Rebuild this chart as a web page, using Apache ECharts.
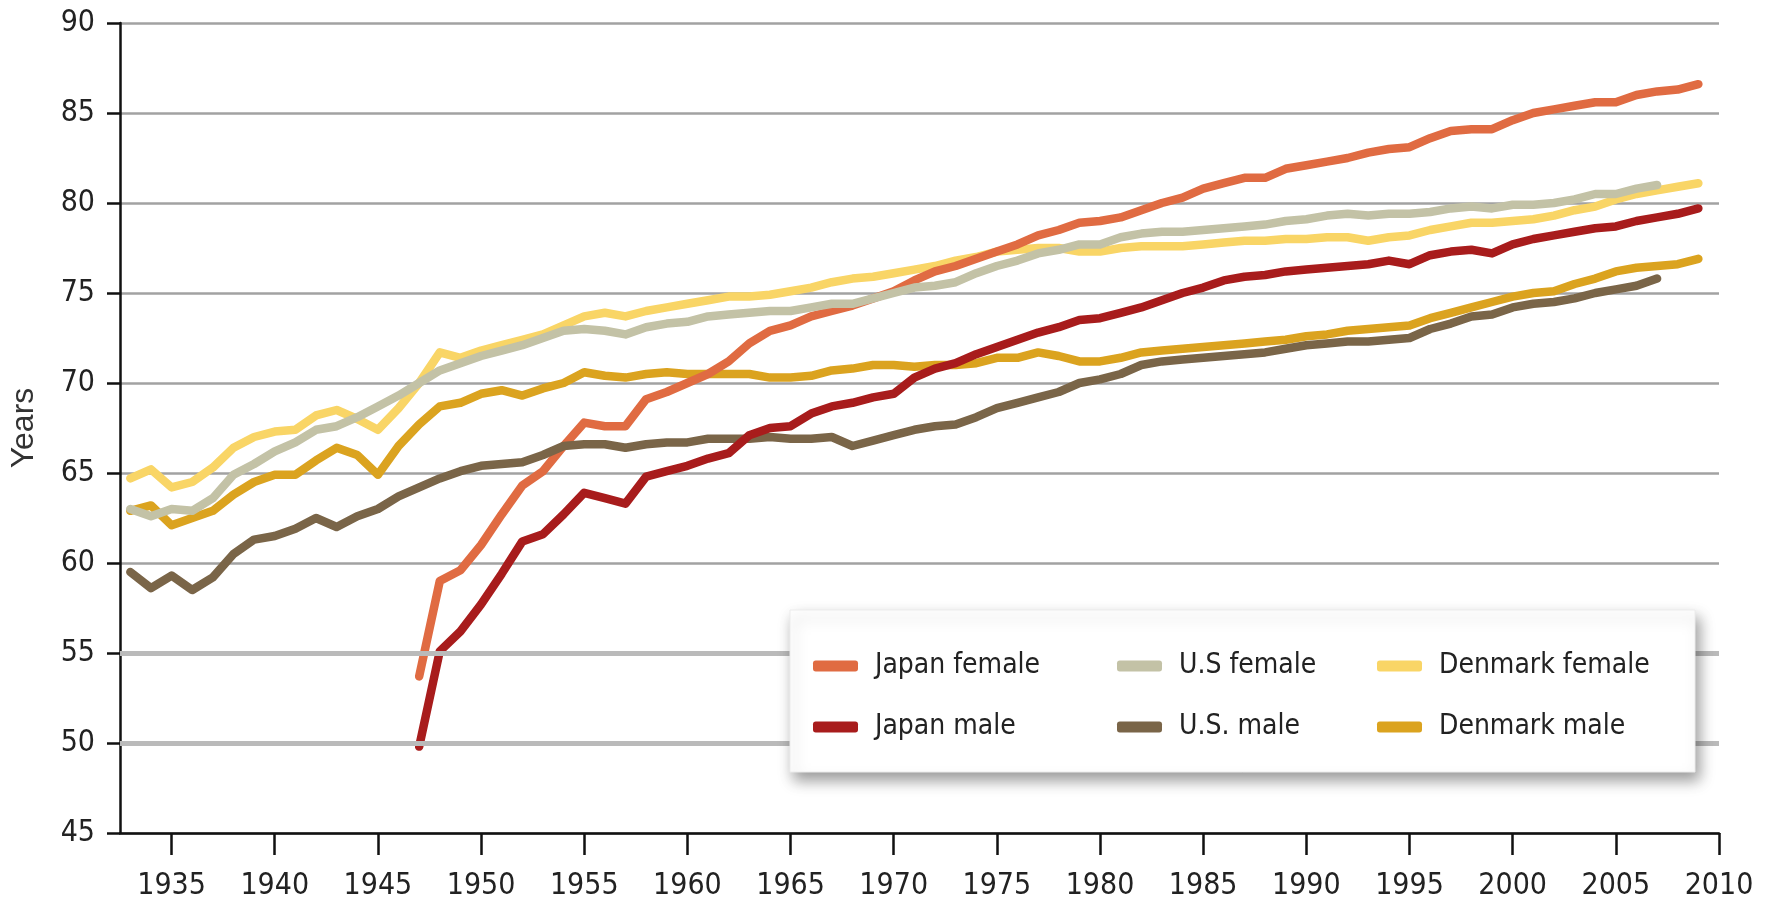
<!DOCTYPE html>
<html><head><meta charset="utf-8">
<script src="https://cdn.jsdelivr.net/npm/echarts@6/dist/echarts.min.js"></script>
<style>html,body{margin:0;padding:0;background:#fff}#c{width:1767px;height:909px}</style>
</head><body><div id="c"></div><script>
const years = [1933,1934,1935,1936,1937,1938,1939,1940,1941,1942,1943,1944,1945,1946,1947,1948,1949,1950,1951,1952,1953,1954,1955,1956,1957,1958,1959,1960,1961,1962,1963,1964,1965,1966,1967,1968,1969,1970,1971,1972,1973,1974,1975,1976,1977,1978,1979,1980,1981,1982,1983,1984,1985,1986,1987,1988,1989,1990,1991,1992,1993,1994,1995,1996,1997,1998,1999,2000,2001,2002,2003,2004,2005,2006,2007,2008,2009];
const japanFemale = [null,null,null,null,null,null,null,null,null,null,null,null,null,null,53.7,59.0,59.6,61.0,62.7,64.3,65.1,66.5,67.8,67.6,67.6,69.1,69.5,70.0,70.5,71.2,72.2,72.9,73.2,73.7,74.0,74.3,74.7,75.1,75.7,76.2,76.5,76.9,77.3,77.7,78.2,78.5,78.9,79.0,79.2,79.6,80.0,80.3,80.8,81.1,81.4,81.4,81.9,82.1,82.3,82.5,82.8,83.0,83.1,83.6,84.0,84.1,84.1,84.6,85.0,85.2,85.4,85.6,85.6,86.0,86.2,86.3,86.6];
const japanMale = [null,null,null,null,null,null,null,null,null,null,null,null,null,null,49.8,55.1,56.2,57.7,59.4,61.2,61.6,62.7,63.9,63.6,63.3,64.8,65.1,65.4,65.8,66.1,67.1,67.5,67.6,68.3,68.7,68.9,69.2,69.4,70.3,70.8,71.1,71.6,72.0,72.4,72.8,73.1,73.5,73.6,73.9,74.2,74.6,75.0,75.3,75.7,75.9,76.0,76.2,76.3,76.4,76.5,76.6,76.8,76.6,77.1,77.3,77.4,77.2,77.7,78.0,78.2,78.4,78.6,78.7,79.0,79.2,79.4,79.7];
const usFemale = [63.0,62.6,63.0,62.9,63.6,64.9,65.5,66.2,66.7,67.4,67.6,68.1,68.7,69.3,70.0,70.7,71.1,71.5,71.8,72.1,72.5,72.9,73.0,72.9,72.7,73.1,73.3,73.4,73.7,73.8,73.9,74.0,74.0,74.2,74.4,74.4,74.7,75.0,75.3,75.4,75.6,76.1,76.5,76.8,77.2,77.4,77.7,77.7,78.1,78.3,78.4,78.4,78.5,78.6,78.7,78.8,79.0,79.1,79.3,79.4,79.3,79.4,79.4,79.5,79.7,79.8,79.7,79.9,79.9,80.0,80.2,80.5,80.5,80.8,81.0,null,null];
const usMale = [59.5,58.6,59.3,58.5,59.2,60.5,61.3,61.5,61.9,62.5,62.0,62.6,63.0,63.7,64.2,64.7,65.1,65.4,65.5,65.6,66.0,66.5,66.6,66.6,66.4,66.6,66.7,66.7,66.9,66.9,66.9,67.0,66.9,66.9,67.0,66.5,66.8,67.1,67.4,67.6,67.7,68.1,68.6,68.9,69.2,69.5,70.0,70.2,70.5,71.0,71.2,71.3,71.4,71.5,71.6,71.7,71.9,72.1,72.2,72.3,72.3,72.4,72.5,73.0,73.3,73.7,73.8,74.2,74.4,74.5,74.7,75.0,75.2,75.4,75.8,null,null];
const denmarkFemale = [64.7,65.2,64.2,64.5,65.3,66.4,67.0,67.3,67.4,68.2,68.5,68.0,67.4,68.6,70.0,71.7,71.4,71.8,72.1,72.4,72.7,73.2,73.7,73.9,73.7,74.0,74.2,74.4,74.6,74.8,74.8,74.9,75.1,75.3,75.6,75.8,75.9,76.1,76.3,76.5,76.8,77.0,77.3,77.4,77.5,77.5,77.3,77.3,77.5,77.6,77.6,77.6,77.7,77.8,77.9,77.9,78.0,78.0,78.1,78.1,77.9,78.1,78.2,78.5,78.7,78.9,78.9,79.0,79.1,79.3,79.6,79.8,80.2,80.5,80.7,80.9,81.1];
const denmarkMale = [62.9,63.2,62.1,62.5,62.9,63.8,64.5,64.9,64.9,65.7,66.4,66.0,64.9,66.5,67.7,68.7,68.9,69.4,69.6,69.3,69.7,70.0,70.6,70.4,70.3,70.5,70.6,70.5,70.5,70.5,70.5,70.3,70.3,70.4,70.7,70.8,71.0,71.0,70.9,71.0,71.0,71.1,71.4,71.4,71.7,71.5,71.2,71.2,71.4,71.7,71.8,71.9,72.0,72.1,72.2,72.3,72.4,72.6,72.7,72.9,73.0,73.1,73.2,73.6,73.9,74.2,74.5,74.8,75.0,75.1,75.5,75.8,76.2,76.4,76.5,76.6,76.9];
const xTicks = [1935,1940,1945,1950,1955,1960,1965,1970,1975,1980,1985,1990,1995,2000,2005,2010];

const FONT = "'Liberation Sans Narrow','DejaVu Sans Condensed',sans-serif";
function pairs(vals){ const out=[]; years.forEach((y,i)=>{ if(vals[i]!=null) out.push([y,vals[i]]); }); return out; }
function mk(name, vals, color, z){
  return {name:name, type:'line', data:pairs(vals), showSymbol:false, symbol:'none', z:z,
    lineStyle:{width:8.5,color:color,cap:'round',join:'round'}, itemStyle:{color:color}, animation:false};
}
const legendCommon = {orient:'vertical', icon:'roundRect', itemWidth:45, itemHeight:11, itemGap:21, top:646, padding:0, z:20, selectedMode:false,
  textStyle:{fontFamily:FONT, fontSize:28, color:'#222', lineHeight:40, padding:[0,0,0,12]}};
const chart = echarts.init(document.getElementById('c'));
chart.setOption({
  backgroundColor:'#fff',
  animation:false,
  grid:{left:108, right:48, top:23, bottom:76, containLabel:false},
  xAxis:{type:'value', min:1932.5, max:2010,
    axisLine:{show:true, onZero:false, lineStyle:{color:'#111', width:2.5}},
    axisTick:{show:true, customValues:xTicks, length:22, lineStyle:{color:'#111', width:2.5}},
    axisLabel:{customValues:xTicks, formatter:function(v){return String(v);}, margin:38, fontSize:30, color:'#222', fontFamily:FONT},
    splitLine:{show:false}},
  yAxis:{type:'value', min:45, max:90, interval:5,
    name:'Years', nameLocation:'middle', nameGap:80, nameRotate:90,
    nameTextStyle:{fontSize:32, fontFamily:"'Liberation Sans',sans-serif", color:'#333'},
    axisLine:{show:true, lineStyle:{color:'#111', width:2.5}},
    axisTick:{show:true, length:13, lineStyle:{color:'#111', width:2.5}},
    axisLabel:{margin:25, fontSize:30, color:'#222', fontFamily:FONT},
    splitLine:{show:true, lineStyle:{color:'#a2a2a2', width:2.5}}},
  graphic:[{type:'rect', silent:true, z:10, shape:{x:790, y:610, width:905, height:162},
    style:{fill:'#fff', stroke:'#ececec', lineWidth:1, shadowBlur:14, shadowColor:'rgba(0,0,0,0.4)', shadowOffsetX:4, shadowOffsetY:8}}],
  legend:[
    Object.assign({}, legendCommon, {left:813, data:['Japan female','Japan male']}),
    Object.assign({}, legendCommon, {left:1117, data:['U.S female','U.S. male']}),
    Object.assign({}, legendCommon, {left:1377, data:['Denmark female','Denmark male']})
  ],
  series:[
    {type:'line', name:'_grid', data:[], z:1, silent:true, animation:false,
      markLine:{silent:true, symbol:'none', label:{show:false}, animation:false,
        lineStyle:{type:'solid', width:5, color:'#bababa'}, data:[{yAxis:50},{yAxis:55}]}},
    mk('Denmark male', denmarkMale, '#DBA31F', 2),
    mk('Denmark female', denmarkFemale, '#F9D566', 2),
    mk('Japan female', japanFemale, '#E06B42', 3),
    mk('U.S female', usFemale, '#C3C2A6', 3),
    mk('U.S. male', usMale, '#7A6548', 4),
    mk('Japan male', japanMale, '#A81C1C', 4)
  ]
});
</script></body></html>
